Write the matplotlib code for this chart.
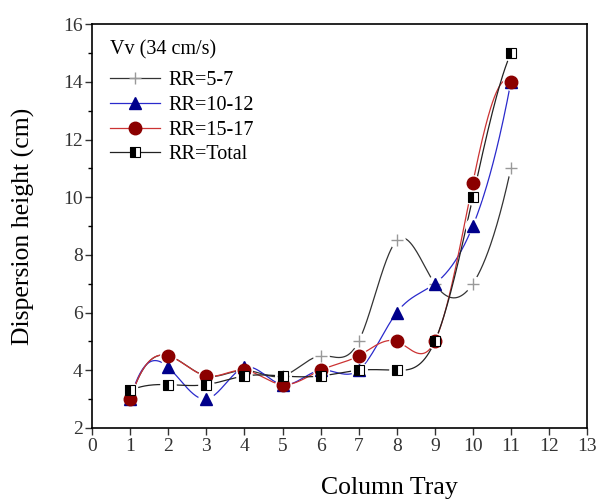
import matplotlib.pyplot as plt
import numpy as np

plt.rcParams['font.family'] = ['Liberation Serif', 'DejaVu Serif']

tray = [1, 2, 3, 4, 5, 6, 7, 8, 9, 10, 11]
rr_5_7 = [3.0, 4.5, 3.8, 4.0, 3.8, 4.5, 5.0, 8.5, 7.0, 7.0, 11.0]
rr_10_12 = [3.0, 4.1, 3.0, 4.1, 3.5, 4.0, 4.0, 6.0, 7.0, 9.0, 14.0]
rr_15_17 = [3.0, 4.5, 3.8, 4.0, 3.5, 4.0, 4.5, 5.0, 5.0, 10.5, 14.0]
rr_total = [3.3, 3.5, 3.5, 3.8, 3.8, 3.8, 4.0, 4.0, 5.0, 10.0, 15.0]


def smooth(x, y, n=600):
    # cubic spline y(x) with not-a-knot ends, numpy only
    x = np.asarray(x, float)
    y = np.asarray(y, float)
    k = len(x)
    h = np.diff(x)
    A = np.zeros((k, k))
    b = np.zeros(k)
    # not-a-knot: third derivative continuous at x[1] and x[-2]
    A[0, 0], A[0, 1], A[0, 2] = h[1], -(h[0] + h[1]), h[0]
    A[-1, -3], A[-1, -2], A[-1, -1] = h[-1], -(h[-2] + h[-1]), h[-2]
    for i in range(1, k - 1):
        A[i, i - 1] = h[i - 1]
        A[i, i] = 2 * (h[i - 1] + h[i])
        A[i, i + 1] = h[i]
        b[i] = 6 * ((y[i + 1] - y[i]) / h[i] - (y[i] - y[i - 1]) / h[i - 1])
    M = np.linalg.solve(A, b)
    xs = np.linspace(x[0], x[-1], n)
    ys = np.empty_like(xs)
    for j, xv in enumerate(xs):
        i = min(np.searchsorted(x, xv, side='right') - 1, k - 2)
        hi = h[i]
        a = x[i + 1] - xv
        c = xv - x[i]
        ys[j] = (M[i] * a ** 3 + M[i + 1] * c ** 3) / (6 * hi) \
            + (y[i] / hi - M[i] * hi / 6) * a + (y[i + 1] / hi - M[i + 1] * hi / 6) * c
    return xs, ys


fig = plt.figure(figsize=(5.99, 5.04), dpi=100)
ax = fig.add_axes([0.154, 0.151, 0.826, 0.801])

series = [
    (rr_5_7, 'RR=5-7', '#333333', dict(marker='+', mfc='#999999', mec='#999999', ms=9, mew=1)),
    (rr_10_12, 'RR=10-12', '#2a2acc', dict(marker='^', mfc='#00008b', mec='#00008b', ms=9)),
    (rr_15_17, 'RR=15-17', '#cc3333', dict(marker='o', mfc='#8b0000', mec='#8b0000', ms=9)),
    (rr_total, 'RR=Total', '#222222', dict(marker='s', mfc='black', mec='black', ms=7,
                                            fillstyle='left', markerfacecoloralt='white',
                                            mew=0.8)),
]

handles = []
for vals, lab, lc, mk in series:
    xs, ys = smooth(tray, vals)
    ax.plot(xs, ys, color=lc, lw=0.9, zorder=2)
    h, = ax.plot([], [], color=lc, lw=0.9, label=lab, **mk)
    handles.append(h)

# white halos break the lines around every marker
for vals, lab, lc, mk in series:
    ax.plot(tray, vals, ls='none', marker='o', ms=12, mfc='white', mec='none', zorder=3)
for vals, lab, lc, mk in series:
    ax.plot(tray, vals, ls='none', zorder=4, **mk)

# legend title as separate text (bigger gap above the entries)
ax.text(0.036, 0.936, 'Vv (34 cm/s)', transform=ax.transAxes, fontsize=14.5,
        ha='left', va='center')
ax.legend(handles=handles, loc='upper left', bbox_to_anchor=(0.036, 0.884),
          frameon=False, fontsize=14.5, handlelength=2.5, handletextpad=0.4,
          labelspacing=0.28, borderaxespad=0, borderpad=0)

ax.set_xlim(0, 13)
ax.set_ylim(2, 16)
ax.set_xticks(range(0, 14))
ax.set_yticks(range(2, 17, 2))
ax.set_yticks(range(3, 16, 2), minor=True)
ax.tick_params(direction='out', labelsize=14, length=5, width=1, pad=2, colors='#333333')
ax.tick_params(which='minor', direction='out', length=3, width=1)
for s in ax.spines.values():
    s.set_linewidth(1.2)
ax.set_xlabel('Column Tray', fontsize=18.5)
ax.xaxis.set_label_coords(0.6, -0.122)
ax.set_ylabel('Dispersion height (cm)', fontsize=18.5, labelpad=20)

fig.savefig('out.png', dpi=100)
